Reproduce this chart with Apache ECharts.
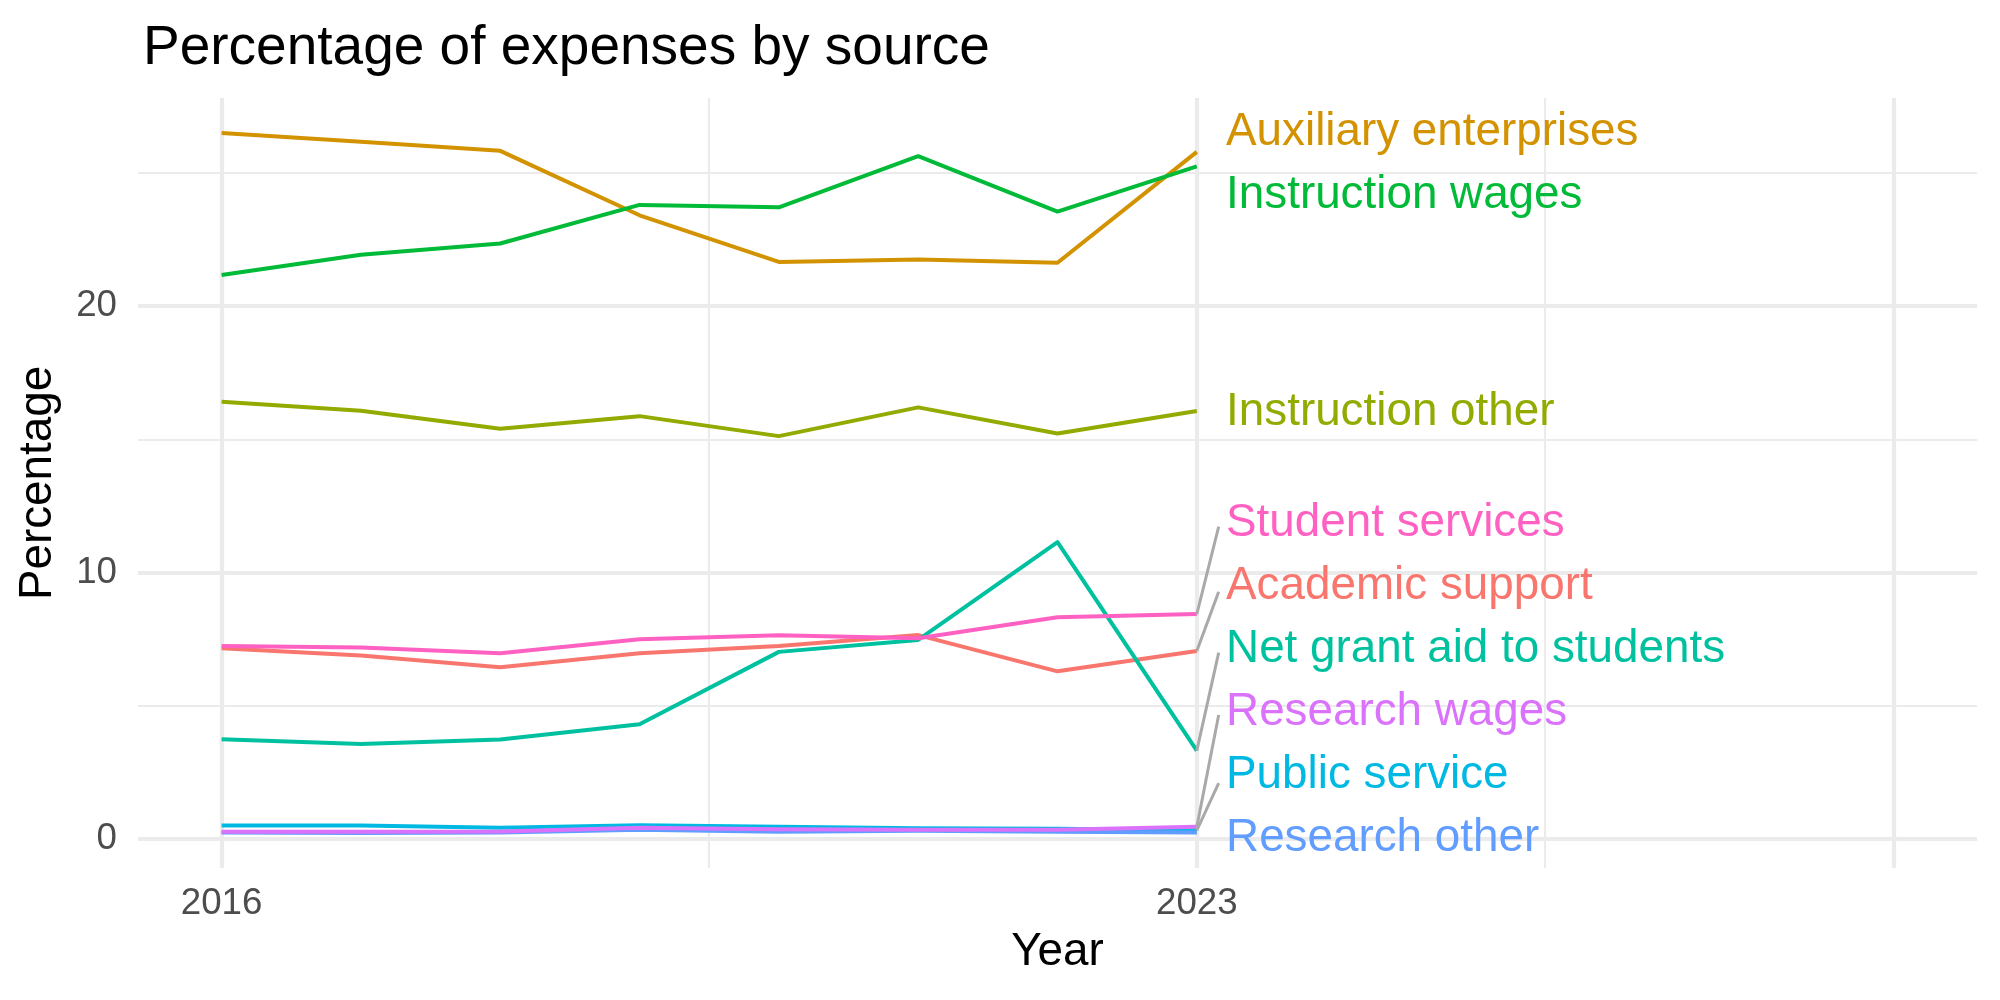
<!DOCTYPE html>
<html>
<head>
<meta charset="utf-8">
<script src="https://cdn.jsdelivr.net/npm/echarts@6/dist/echarts.min.js"></script>
<style>
html,body{margin:0;padding:0;background:#fff;}
#chart{width:2000px;height:1000px;}
</style>
</head>
<body>
<div id="chart"></div>
<script>
// ---- data ----
const years = [2016, 2017, 2018, 2019, 2020, 2021, 2022, 2023];
const seriesNames = [
  "Academic support", "Auxiliary enterprises", "Instruction other", "Instruction wages",
  "Net grant aid to students", "Public service", "Research other", "Research wages", "Student services"
];
const academicSupport      = [7.16, 6.88, 6.44, 6.97, 7.24, 7.65, 6.29, 7.05];
const auxiliaryEnterprises = [26.50, 26.17, 25.83, 23.41, 21.66, 21.75, 21.63, 25.79];
const instructionOther     = [16.41, 16.07, 15.40, 15.87, 15.12, 16.20, 15.22, 16.06];
const instructionWages     = [21.17, 21.93, 22.35, 23.80, 23.71, 25.63, 23.55, 25.25];
const netGrantAid          = [3.74, 3.56, 3.73, 4.30, 7.02, 7.47, 11.14, 3.31];
const publicService        = [0.50, 0.50, 0.42, 0.51, 0.45, 0.40, 0.38, 0.32];
const researchOther        = [0.24, 0.22, 0.24, 0.34, 0.27, 0.30, 0.27, 0.24];
const researchWages        = [0.27, 0.27, 0.28, 0.42, 0.36, 0.34, 0.34, 0.45];
const studentServices      = [7.24, 7.18, 6.97, 7.49, 7.64, 7.53, 8.32, 8.44];
const seriesValues = [academicSupport, auxiliaryEnterprises, instructionOther, instructionWages,
  netGrantAid, publicService, researchOther, researchWages, studentServices];

// repelled label positions (value units) and where their leader segments end
const labelX = 2023.21;
const labelY = [9.47, 26.51, 16.0, 24.17, 7.13, 2.40, 0.03, 4.75, 11.86];
const segmentEndX = 2023.157;
const segmentEndY = [9.28, null, null, null, 6.99, 2.09, null, 4.65, 11.72];

const xTickLabels = [2016, 2023];
const yTickLabels = [0, 10, 20];
const xMajorGrid = [2016, 2023, 2028];
const xMinorGrid = [2019.5, 2025.5];
const yMajorGrid = [0, 10, 20];
const yMinorGrid = [5, 15, 25];
const xLimits = [2016, 2028];

// ---- styles ----
const colors = ["#F8766D", "#D39200", "#93AA00", "#00BA38", "#00C19F", "#00B9E3", "#619CFF", "#DB72FB", "#FF61C3"];
const FONT = "Liberation Sans, Arial, Helvetica, sans-serif";

// ggplot-like 5% expansion
let allV = [].concat(...seriesValues);
let yMinD = Math.min(...allV), yMaxD = Math.max(...allV);
let yPad = (yMaxD - yMinD) * 0.05;
let xPad = (xLimits[1] - xLimits[0]) * 0.05;

const series = [];
// gridlines
const gridColor = "#EBEBEB";
const gridData = [];
xMajorGrid.forEach(v => gridData.push({xAxis: v, lineStyle: {width: 4.2, color: gridColor, type: 'solid'}}));
xMinorGrid.forEach(v => gridData.push({xAxis: v, lineStyle: {width: 2.1, color: gridColor, type: 'solid'}}));
yMajorGrid.forEach(v => gridData.push({yAxis: v, lineStyle: {width: 4.2, color: gridColor, type: 'solid'}}));
yMinorGrid.forEach(v => gridData.push({yAxis: v, lineStyle: {width: 2.1, color: gridColor, type: 'solid'}}));
series.push({
  type: 'line', data: [], silent: true, z: 0,
  markLine: {silent: true, z: 0, symbol: ['none', 'none'], label: {show: false}, animation: false,
    emphasis: {disabled: true}, data: gridData}
});

seriesNames.forEach((name, i) => {
  series.push({
    name: name, type: 'line', showSymbol: false, symbol: 'none', silent: true, z: 2,
    data: years.map((y, j) => [y, seriesValues[i][j]]),
    lineStyle: {color: colors[i], width: 4, join: 'round', cap: 'butt'},
    animation: false
  });
});
// leader segments
seriesNames.forEach((name, i) => {
  if (segmentEndY[i] == null) return;
  const last = seriesValues[i][seriesValues[i].length - 1];
  series.push({
    type: 'line', showSymbol: false, symbol: 'none', silent: true, z: 3,
    data: [[years[years.length - 1], last], [segmentEndX, segmentEndY[i]]],
    lineStyle: {color: "#A9A9A9", width: 3}, animation: false
  });
});
// labels
seriesNames.forEach((name, i) => {
  series.push({
    type: 'scatter', symbolSize: 0, silent: true, z: 4, animation: false,
    itemStyle: {opacity: 1, color: colors[i]},
    data: [[labelX, labelY[i]]],
    label: {show: true, position: 'right', distance: 0, formatter: name, opacity: 1,
      color: colors[i], fontFamily: FONT, fontSize: 45.8}
  });
});

const chart = echarts.init(document.getElementById('chart'), null, {renderer: 'canvas'});
chart.setOption({
  animation: false,
  backgroundColor: '#FFFFFF',
  title: {
    text: "Percentage of expenses by source", left: 138, top: 16,
    textStyle: {fontFamily: FONT, fontSize: 55, fontWeight: 'normal', color: '#000000'}
  },
  grid: {left: 138, right: 23, top: 98, bottom: 132, containLabel: false},
  xAxis: {
    type: 'value', min: xLimits[0] - xPad, max: xLimits[1] + xPad,
    name: 'Year', nameLocation: 'middle', nameGap: 61,
    nameTextStyle: {fontFamily: FONT, fontSize: 45.8, color: '#000000'},
    axisLine: {show: false}, axisTick: {show: false}, splitLine: {show: false},
    axisLabel: {customValues: xTickLabels, formatter: v => String(v), margin: 17.6,
      fontFamily: FONT, fontSize: 36.7, color: '#4D4D4D'}
  },
  yAxis: {
    type: 'value', min: yMinD - yPad, max: yMaxD + yPad,
    name: 'Percentage', nameLocation: 'middle', nameGap: 77, nameRotate: 90,
    nameTextStyle: {fontFamily: FONT, fontSize: 45.8, color: '#000000'},
    axisLine: {show: false}, axisTick: {show: false}, splitLine: {show: false},
    axisLabel: {customValues: yTickLabels, formatter: v => String(v), margin: 21,
      fontFamily: FONT, fontSize: 36.7, color: '#4D4D4D'}
  },
  series: series
});
</script>
</body>
</html>
